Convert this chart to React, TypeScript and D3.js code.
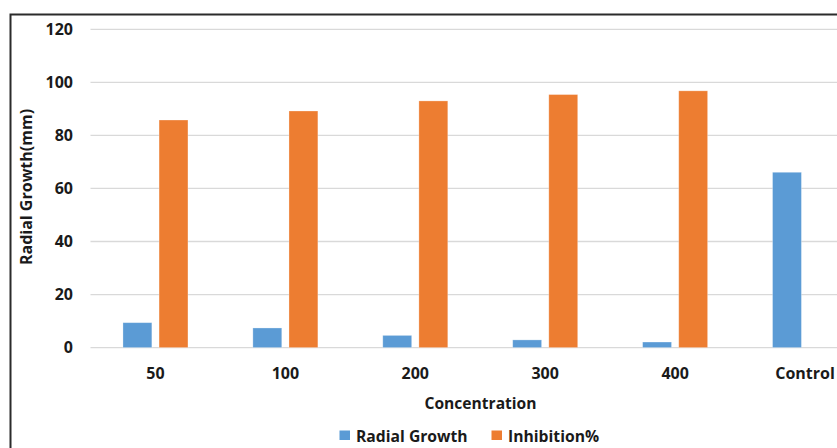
import React from "react";
import * as d3 from "d3";

// Concentration levels on the x axis
const categories = ["50", "100", "200", "300", "400", "Control"];
// Series values
const radialGrowth = [9.4, 7.4, 4.6, 2.9, 2.1, 66.1];
const inhibition = [85.8, 89.2, 93.0, 95.4, 96.8, 0];
const seriesNames = ["Radial Growth", "Inhibition%"];
const seriesColors = ["#5B9BD5", "#ED7D31"];
const yTicks = [0, 20, 40, 60, 80, 100, 120];

const W = 837;
const H = 448;
const FONT = "'Open Sans', 'DejaVu Sans', sans-serif";
const TEXT = "#1a1a1a";

export default function App() {
  const plotLeft = 90.5;
  const plotRight = 870;
  const y = d3.scaleLinear().domain([0, 120]).range([347.6, 29.3]);
  const x0 = d3.scaleBand<string>().domain(categories).range([plotLeft, plotRight]).padding(0);
  const step = x0.bandwidth();
  const groupW = 65;
  const x1 = d3
    .scaleBand<number>()
    .domain([0, 1])
    .range([(step - groupW) / 2, (step + groupW) / 2])
    .paddingInner(0.2);

  const series = [radialGrowth, inhibition];

  return (
    <svg
      width={W}
      height={H}
      style={{ position: "absolute", left: 0, top: 0, background: "#fff" }}
      fontFamily={FONT}
    >
      <rect x={0} y={0} width={W} height={H} fill="#fff" />
      {/* gridlines */}
      {yTicks.map((t) => (
        <line
          key={t}
          x1={plotLeft}
          x2={plotRight}
          y1={y(t)}
          y2={y(t)}
          stroke="#D9D9D9"
          strokeWidth={1.3}
        />
      ))}
      {/* bars */}
      {categories.map((c, i) => (
        <g key={c} transform={`translate(${x0(c)},0)`}>
          {series.map((vals, s) =>
            vals[i] > 0 ? (
              <rect
                key={s}
                x={x1(s)}
                y={y(vals[i])}
                width={x1.bandwidth()}
                height={y(0) - y(vals[i])}
                fill={seriesColors[s]}
                stroke="#fff"
                strokeOpacity={0.35}
                strokeWidth={0.8}
              />
            ) : null
          )}
        </g>
      ))}
      {/* y tick labels */}
      {yTicks.map((t) => (
        <text
          key={t}
          x={73}
          y={y(t)}
          dy="0.36em"
          textAnchor="end"
          fontSize={16}
          fontWeight={700}
          fill={TEXT}
        >
          {t}
        </text>
      ))}
      {/* x tick labels */}
      {categories.map((c) => (
        <text
          key={c}
          x={(x0(c) as number) + step / 2}
          y={379}
          textAnchor="middle"
          fontSize={16}
          fontWeight={700}
          fill={TEXT}
        >
          {c}
        </text>
      ))}
      {/* axis titles */}
      <text x={480.5} y={408.5} textAnchor="middle" fontSize={15.6} fontWeight={700} fill={TEXT}>
        Concentration
      </text>
      <text
        transform="translate(31.5,187) rotate(-90)"
        textAnchor="middle"
        fontSize={16}
        fontWeight={700}
        fill={TEXT}
      >
        Radial Growth(mm)
      </text>
      {/* legend */}
      <rect x={339.5} y={430.5} width={10.5} height={9.5} fill={seriesColors[0]} />
      <text x={356} y={441.5} fontSize={15.7} fontWeight={700} fill={TEXT}>
        {seriesNames[0]}
      </text>
      <rect x={491.5} y={430.5} width={10.5} height={9.5} fill={seriesColors[1]} />
      <text x={508} y={441.5} fontSize={15.7} fontWeight={700} fill={TEXT}>
        {seriesNames[1]}
      </text>
      {/* chart frame */}
      <rect x={10.5} y={14.5} width={900} height={500} fill="none" stroke="#2b2b2b" strokeWidth={2} />
    </svg>
  );
}
